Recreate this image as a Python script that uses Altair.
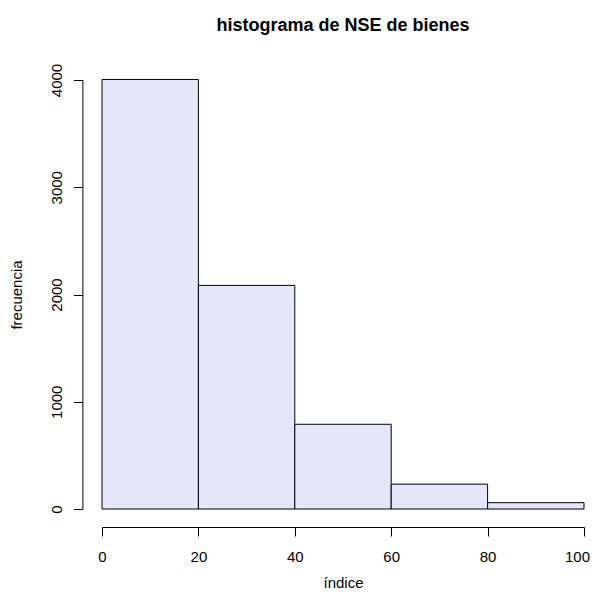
import altair as alt
import pandas as pd

bin_start = [0, 20, 40, 60, 80]
bin_end = [20, 40, 60, 80, 100]
counts = [4005, 2085, 790, 232, 59]

x_ticks = [0, 20, 40, 60, 80, 100]
y_ticks = [0, 1000, 2000, 3000, 4000]

df = pd.DataFrame({"start": bin_start, "end": bin_end, "count": counts})

FONT = "Liberation Sans"

chart = (
    alt.Chart(df)
    .mark_rect(fill="#E6E6FA", stroke="black", strokeWidth=1)
    .encode(
        x=alt.X(
            "start:Q",
            scale=alt.Scale(domain=[0, 100], nice=False, zero=False),
            axis=alt.Axis(
                values=x_ticks,
                format="d",
                title="índice",
                offset=18,
                grid=False,
                domainColor="black",
                tickColor="black",
                tickSize=9,
                labelFontSize=15,
                labelFont=FONT,
                labelColor="black",
                labelPadding=13,
                labelOffset={"expr": "datum.value == 100 ? -7 : 0"},
                titleFont=FONT,
                titleFontSize=15,
                titleFontWeight="normal",
                titleColor="black",
                titlePadding=11,
                labelFlush=False,
            ),
        ),
        x2="end:Q",
        y=alt.Y(
            "count:Q",
            scale=alt.Scale(domain=[0, 4000], nice=False),
            axis=alt.Axis(
                values=y_ticks,
                format="d",
                title="frecuencia",
                offset=19.6,
                grid=False,
                domainColor="black",
                tickColor="black",
                tickSize=9,
                labelAngle=270,
                labelAlign="center",
                labelBaseline="bottom",
                labelFontSize=15,
                labelFont=FONT,
                labelColor="black",
                labelPadding=9,
                labelFlush=False,
                titleFont=FONT,
                titleFontSize=15,
                titleFontWeight="normal",
                titleColor="black",
                titlePadding=25,
            ),
        ),
        y2=alt.datum(0),
    )
    .properties(
        width=482,
        height=429,
        background="white",
        title=alt.TitleParams(
            "histograma de NSE de bienes",
            font=FONT,
            fontSize=18,
            fontWeight="bold",
            color="black",
            anchor="middle",
            offset=28,
        ),
        autosize=alt.AutoSizeParams(type="none"),
        padding={"left": 94, "top": 72, "right": 6, "bottom": 85},
    )
    .configure_view(strokeWidth=0, stroke="transparent")
)

chart.save("out.html", embed_options={"renderer": "svg", "actions": False})
